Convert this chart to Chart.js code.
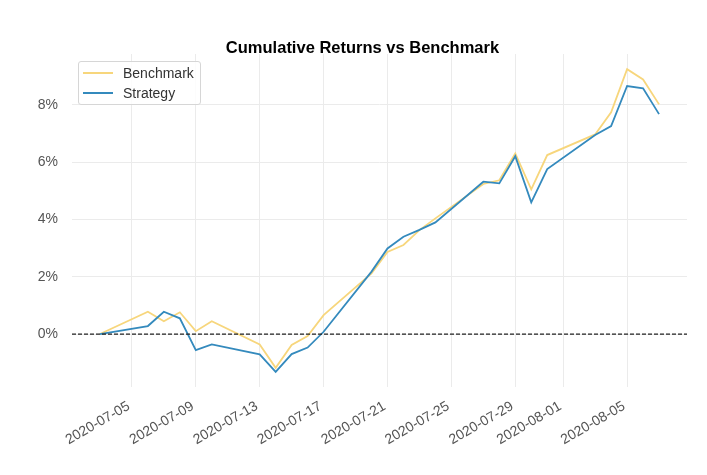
<!DOCTYPE html>
<html>
<head>
<meta charset="utf-8">
<title>Cumulative Returns vs Benchmark</title>
<script src="https://cdn.jsdelivr.net/npm/chart.js@4.4.1/dist/chart.umd.min.js"></script>
<style>
  html, body { margin: 0; padding: 0; background: #fff; }
  #wrap { position: relative; width: 707px; height: 475px; }
  #legend {
    position: absolute; left: 78px; top: 61px; width: 121px; height: 42px;
    border: 1px solid #d6d6d6; border-radius: 3px; background: rgba(255,255,255,0.85);
    font-family: 'Liberation Sans', Arial, sans-serif; font-size: 14px; color: #333;
  }
  #legend .item { position: absolute; left: 0; height: 18px; line-height: 18px; }
  #legend .swatch { position: absolute; left: 4px; top: 8px; width: 30px; height: 2px; }
  #legend .label { position: absolute; left: 44px; top: 0; white-space: nowrap; }
</style>
</head>
<body>
<div id="wrap">
  <canvas id="chart" width="707" height="475"></canvas>
  <div id="legend">
    <div class="item" style="top:2px"><span class="swatch" style="background:#f7d67c"></span><span class="label">Benchmark</span></div>
    <div class="item" style="top:22px"><span class="swatch" style="background:#348abd"></span><span class="label">Strategy</span></div>
  </div>
</div>
<script>
// business days, 2020-07-03 .. 2020-08-07
const dates = [
  '2020-07-03', '2020-07-06', '2020-07-07', '2020-07-08', '2020-07-09', '2020-07-10',
  '2020-07-13', '2020-07-14', '2020-07-15', '2020-07-16', '2020-07-17',
  '2020-07-20', '2020-07-21', '2020-07-22', '2020-07-23', '2020-07-24',
  '2020-07-27', '2020-07-28', '2020-07-29', '2020-07-30', '2020-07-31',
  '2020-08-03', '2020-08-04', '2020-08-05', '2020-08-06', '2020-08-07',
];

// cumulative returns, in %
const benchmark = [
  0, 0.78, 0.45, 0.76, 0.10, 0.45,
  -0.36, -1.18, -0.38, -0.07, 0.66,
  2.12, 2.87, 3.11, 3.63, 4.04,
  5.24, 5.37, 6.31, 5.05, 6.25,
  6.97, 7.74, 9.25, 8.89, 8.02,
];
const strategy = [
  0, 0.28, 0.78, 0.55, -0.56, -0.36,
  -0.71, -1.32, -0.70, -0.47, 0.08,
  2.18, 2.99, 3.40, 3.64, 3.90,
  5.32, 5.26, 6.21, 4.60, 5.76,
  6.95, 7.26, 8.66, 8.58, 7.68,
];

const xTickLabels = [
  '2020-07-05', '2020-07-09', '2020-07-13', '2020-07-17', '2020-07-21',
  '2020-07-25', '2020-07-29', '2020-08-01', '2020-08-05',
];
const yTicks = [0, 2, 4, 6, 8];

const TITLE = 'Cumulative Returns vs Benchmark';

// no date adapter available: use days since the first date on a linear axis
const DAY = 86400000;
const t0 = Date.parse(dates[0]);
const dayOf = (s) => Math.round((Date.parse(s) - t0) / DAY);
const xTickDays = xTickLabels.map(dayOf);

const toPoints = (vals) => vals.map((v, i) => ({ x: dayOf(dates[i]), y: v }));

const lastDay = dayOf(dates[dates.length - 1]);
const xPad = lastDay * 0.05;
const yLo = Math.min(...benchmark, ...strategy);
const yHi = Math.max(...benchmark, ...strategy);
const yPad = (yHi - yLo) * 0.05;

const FONT = "'Liberation Sans', Arial, Helvetica, sans-serif";
const GRID = '#ebebeb';
const TICK_COLOR = '#555';

// dashed zero line across the plot area
const zeroLine = {
  id: 'zeroLine',
  afterDatasetsDraw(chart) {
    const { ctx, chartArea } = chart;
    const y = chart.scales.y.getPixelForValue(0);
    ctx.save();
    ctx.strokeStyle = '#222';
    ctx.lineWidth = 1.3;
    ctx.setLineDash([4, 2]);
    ctx.beginPath();
    ctx.moveTo(chartArea.left, y);
    ctx.lineTo(chartArea.right, y);
    ctx.stroke();
    ctx.restore();
  },
};

// title sits a little left of the plot centre in the original
const plotTitle = {
  id: 'plotTitle',
  afterDraw(chart) {
    const { ctx, chartArea } = chart;
    ctx.save();
    ctx.font = `bold 16.5px ${FONT}`;
    ctx.fillStyle = '#000';
    ctx.textAlign = 'center';
    ctx.textBaseline = 'middle';
    ctx.fillText(TITLE, (chartArea.left + chartArea.right) / 2 - 17, chartArea.top - 6);
    ctx.restore();
  },
};

new Chart(document.getElementById('chart').getContext('2d'), {
  type: 'line',
  data: {
    datasets: [
      {
        label: 'Benchmark',
        data: toPoints(benchmark),
        borderColor: '#f7d67c',
        borderWidth: 1.8,
        pointRadius: 0,
        tension: 0,
        order: 1,
      },
      {
        label: 'Strategy',
        data: toPoints(strategy),
        borderColor: '#348abd',
        borderWidth: 1.8,
        pointRadius: 0,
        tension: 0,
        order: 0,
      },
    ],
  },
  options: {
    responsive: false,
    animation: false,
    devicePixelRatio: 1,
    layout: { padding: { left: 0, right: 20, top: 54, bottom: 0 } },
    plugins: {
      legend: { display: false },
      tooltip: { enabled: false },
      title: { display: false },
    },
    scales: {
      x: {
        type: 'linear',
        min: -xPad,
        max: lastDay + xPad,
        afterBuildTicks(scale) {
          scale.ticks = xTickDays.map((v) => ({ value: v }));
        },
        afterFit(scale) {
          scale.height = 88;
        },
        ticks: {
          autoSkip: false,
          minRotation: 30,
          maxRotation: 30,
          padding: 11,
          labelOffset: -3,
          color: TICK_COLOR,
          font: { family: FONT, size: 14 },
          callback(v) {
            const i = xTickDays.indexOf(v);
            return i >= 0 ? xTickLabels[i] : '';
          },
        },
        grid: { color: GRID, lineWidth: 1, drawTicks: false },
        border: { display: false },
      },
      y: {
        type: 'linear',
        min: yLo - yPad,
        max: yHi + yPad,
        afterBuildTicks(scale) {
          scale.ticks = yTicks.map((v) => ({ value: v }));
        },
        afterFit(scale) {
          scale.width = 72;
        },
        ticks: {
          padding: 14,
          color: TICK_COLOR,
          font: { family: FONT, size: 14 },
          callback(v) {
            return v + '%';
          },
        },
        grid: { color: GRID, lineWidth: 1, drawTicks: false },
        border: { display: false },
      },
    },
  },
  plugins: [zeroLine, plotTitle],
});
</script>
</body>
</html>
